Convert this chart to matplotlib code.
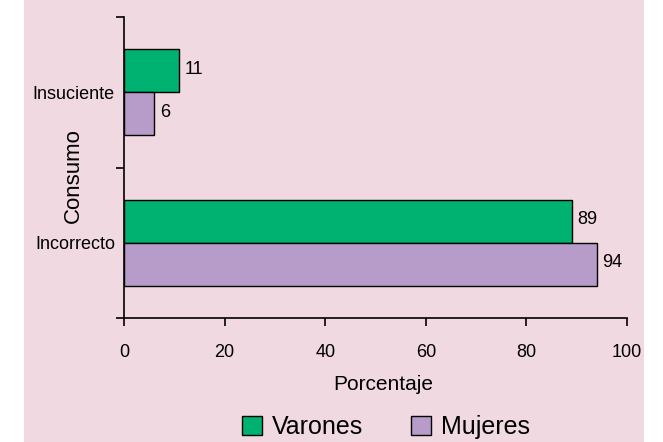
import matplotlib.pyplot as plt
from matplotlib.patches import Rectangle
from matplotlib.ticker import FixedLocator

categorias = ['Incorrecto', 'Insuciente']
varones = [89, 11]
mujeres = [94, 6]
series = ['Varones', 'Mujeres']

verde = '#00B271'
lila = '#B79BC9'
rosa = '#F0D9E1'

plt.rcParams['font.family'] = ['Liberation Sans', 'DejaVu Sans']

fig = plt.figure(figsize=(6.63, 4.42), dpi=100)
fig.patch.set_facecolor('white')
fondo = Rectangle((24 / 663, 0), 620 / 663, 1, transform=fig.transFigure,
                  facecolor=rosa, edgecolor='none', zorder=-5)
fig.add_artist(fondo)

ax = fig.add_axes([124 / 663, 1 - 318 / 442, 503 / 663, 301 / 442])
ax.set_facecolor(rosa)

h = 0.287
pos = list(range(len(categorias)))
b1 = ax.barh([p + h / 2 for p in pos], varones, height=h, color=verde,
             edgecolor='black', linewidth=1, label=series[0])
b2 = ax.barh([p - h / 2 for p in pos], mujeres, height=h, color=lila,
             edgecolor='black', linewidth=1, label=series[1])

for bars, vals in ((b1, varones), (b2, mujeres)):
    for bar, v in zip(bars, vals):
        ax.annotate(str(v), (v, bar.get_y() + bar.get_height() / 2),
                    xytext=(4, 1), textcoords='offset points',
                    ha='left', va='center', fontsize=13)

ax.set_xlim(0, 100)
ax.set_ylim(-0.5, 1.5)
ax.set_xticks(range(0, 101, 20))
ax.set_yticks(pos)
ax.set_yticklabels(categorias)
ax.yaxis.set_minor_locator(FixedLocator([-0.5, 0.5, 1.5]))
ax.tick_params(axis='y', which='major', length=0, pad=6.5, labelsize=13)
ax.tick_params(axis='y', which='minor', length=6, width=1.2)
ax.tick_params(axis='x', length=6, width=1.2, pad=13, labelsize=13)

for s in ('top', 'right'):
    ax.spines[s].set_visible(False)
for s in ('left', 'bottom'):
    ax.spines[s].set_linewidth(1.2)

ax.set_xlabel('Porcentaje', fontsize=15)
ax.xaxis.set_label_coords(0.515, -0.19)
ax.set_ylabel('Consumo', fontsize=16)
ax.yaxis.set_label_coords(-0.08, 0.472)

fig.legend(handles=[b1, b2], labels=series, loc='lower center',
           bbox_to_anchor=(0.582, -0.045), ncol=2, frameon=False,
           fontsize=18, handlelength=0.8, handleheight=0.8,
           handletextpad=0.4, columnspacing=1.9)

fig.savefig('out.png', dpi=100)
